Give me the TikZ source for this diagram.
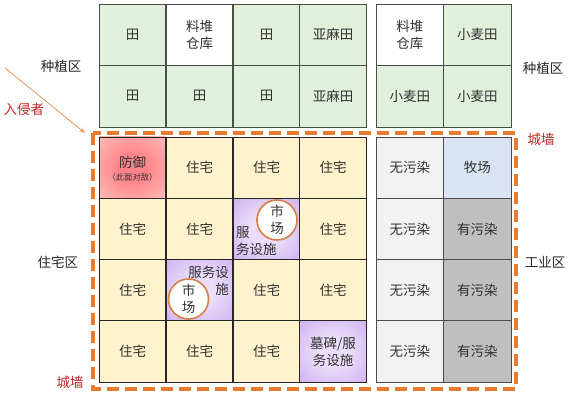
\documentclass[tikz,border=0pt]{standalone}
\usepackage{fontspec}
\setmainfont{Noto Sans CJK SC}
\usetikzlibrary{arrows.meta}
\definecolor{fieldg}{RGB}{226,239,218}
\definecolor{house}{RGB}{255,242,204}
\definecolor{clean}{RGB}{242,242,242}
\definecolor{dirty}{RGB}{191,191,191}
\definecolor{pasture}{RGB}{218,227,243}
\definecolor{wallor}{RGB}{232,125,49}
\definecolor{arrowor}{RGB}{230,150,90}
\definecolor{mktor}{RGB}{215,125,70}
\definecolor{txt}{RGB}{50,50,50}
\definecolor{redtxt}{RGB}{192,40,40}
\definecolor{gridg}{RGB}{70,80,70}
\definecolor{redc}{RGB}{255,130,138}
\definecolor{rede}{RGB}{255,220,208}
\definecolor{purc}{RGB}{234,222,250}
\definecolor{pure}{RGB}{196,160,238}
\pgfdeclareradialshading{redglow}{\pgfpoint{0bp}{0bp}}{color(0bp)=(redc); color(10bp)=(redc); color(50bp)=(rede); color(75bp)=(rede)}
\pgfdeclareradialshading{purglow}{\pgfpoint{0bp}{0bp}}{color(0bp)=(purc); color(12bp)=(purc); color(45bp)=(pure); color(75bp)=(pure)}
\tikzset{
  cell/.style={draw=gridg, line width=0.8pt, minimum width=66.75pt, minimum height=61.5pt,
    inner sep=0pt, outer sep=0pt, align=center, text=txt,
    font=\fontsize{13.5}{17}\selectfont},
  rcell/.style={cell, minimum width=67.5pt},
  bcell/.style={cell, draw=black!85, minimum height=61.25pt},
  brcell/.style={bcell, minimum width=67.5pt, draw=black!70},
  market/.style={circle, draw=mktor, line width=1.6pt, fill=white, minimum size=40pt,
    inner sep=0pt, align=center, text=txt, font=\fontsize{13.5}{17}\selectfont},
  lbl/.style={text=black!85, font=\fontsize{13.5}{17}\selectfont, inner sep=0pt},
  redlbl/.style={text=redtxt, font=\fontsize{13.5}{17}\selectfont, inner sep=0pt},
  ctext/.style={text=txt, font=\fontsize{13.5}{17}\selectfont, inner sep=0pt},
  wall/.style={draw=wallor, line width=4pt, dash pattern=on 12pt off 6pt},
}
\begin{document}
\begin{tikzpicture}[x=1pt,y=-1pt]
\useasboundingbox[fill=white] (0,0) rectangle (584,400);
% top fields
\node[cell, fill=fieldg] (t11) at (132.5,34.75) {田};
\node[cell, fill=white]  (t12) at (199.5,34.75) {料堆\\仓库};
\node[cell, fill=fieldg] (t13) at (266.5,34.75) {田};
\node[cell, fill=fieldg] (t14) at (333,34.75) {亚麻田};
\node[rcell, fill=white] (t15) at (409.75,34.75) {料堆\\仓库};
\node[rcell, fill=fieldg] (t16) at (477.25,34.75) {小麦田};
\node[cell, fill=fieldg] (t21) at (132.5,96.25) {田};
\node[cell, fill=fieldg] (t22) at (199.5,96.25) {田};
\node[cell, fill=fieldg] (t23) at (266.5,96.25) {田};
\node[cell, fill=fieldg] (t24) at (333,96.25) {亚麻田};
\node[rcell, fill=fieldg] (t25) at (409.75,96.25) {小麦田};
\node[rcell, fill=fieldg] (t26) at (477.25,96.25) {小麦田};
% town
\node[bcell, shading=redglow] (b11) at (132.5,167.6) {};
\node[ctext, anchor=center] (def) at (132.5,162) {防御};
\node[text=txt, font=\fontsize{8.3}{10}\selectfont, inner sep=0pt] (defs) at (132.5,177.5) {（此面对敌）};
\node[bcell, fill=house] (b12) at (199.5,167.6) {住宅};
\node[bcell, fill=house] (b13) at (266.5,167.6) {住宅};
\node[bcell, fill=house] (b14) at (333,167.6) {住宅};
\node[brcell, fill=clean] (b15) at (409.75,167.6) {无污染};
\node[brcell, fill=pasture] (b16) at (477.25,167.6) {牧场};

\node[bcell, fill=house] (b21) at (132.5,228.9) {住宅};
\node[bcell, fill=house] (b22) at (199.5,228.9) {住宅};
\node[bcell, shading=purglow] (b23) at (266.5,228.9) {};
\node[bcell, fill=house] (b24) at (333,228.9) {住宅};
\node[brcell, fill=clean] (b25) at (409.75,228.9) {无污染};
\node[brcell, fill=dirty] (b26) at (477.25,228.9) {有污染};

\node[bcell, fill=house] (b31) at (132.5,290.1) {住宅};
\node[bcell, shading=purglow] (b32) at (199.5,290.1) {};
\node[bcell, fill=house] (b33) at (266.5,290.1) {住宅};
\node[bcell, fill=house] (b34) at (333,290.1) {住宅};
\node[brcell, fill=clean] (b35) at (409.75,290.1) {无污染};
\node[brcell, fill=dirty] (b36) at (477.25,290.1) {有污染};

\node[bcell, fill=house] (b41) at (132.5,351.4) {住宅};
\node[bcell, fill=house] (b42) at (199.5,351.4) {住宅};
\node[bcell, fill=house] (b43) at (266.5,351.4) {住宅};
\node[bcell, shading=purglow] (b44) at (333,351.4) {墓碑/服\\务设施};
\node[brcell, fill=clean] (b45) at (409.75,351.4) {无污染};
\node[brcell, fill=dirty] (b46) at (477.25,351.4) {有污染};

% service texts and markets
\node[ctext, align=left, anchor=west] (s1) at (236,241) {服\\务设施};
\node[market] (m1) at (277,220) {市\\场};
\node[ctext, align=right, anchor=east] (s2) at (229,280.5) {服务设\\施};
\node[market] (m2) at (188.5,299) {市\\场};

% wall
\coordinate (w1) at (93,133);
\coordinate (w2) at (516,389);
\draw[wall] (w1) rectangle (w2);

% labels
\node[lbl] (l1) at (61,66) {种植区};
\node[lbl] (l2) at (543,68) {种植区};
\node[lbl] (l3) at (58,262) {住宅区};
\node[lbl] (l4) at (545,262) {工业区};
\node[redlbl] (inv) at (24,109) {入侵者};
\node[redlbl] (c1) at (541,139) {城墙};
\node[redlbl] (c2) at (70,382) {城墙};

\coordinate (a0) at (5,68);
\coordinate (a1) at (85,133);
\draw[arrowor, line width=0.8pt, -{Stealth[length=6pt,width=4.5pt]}] (a0) -- (a1);
\end{tikzpicture}
\end{document}
